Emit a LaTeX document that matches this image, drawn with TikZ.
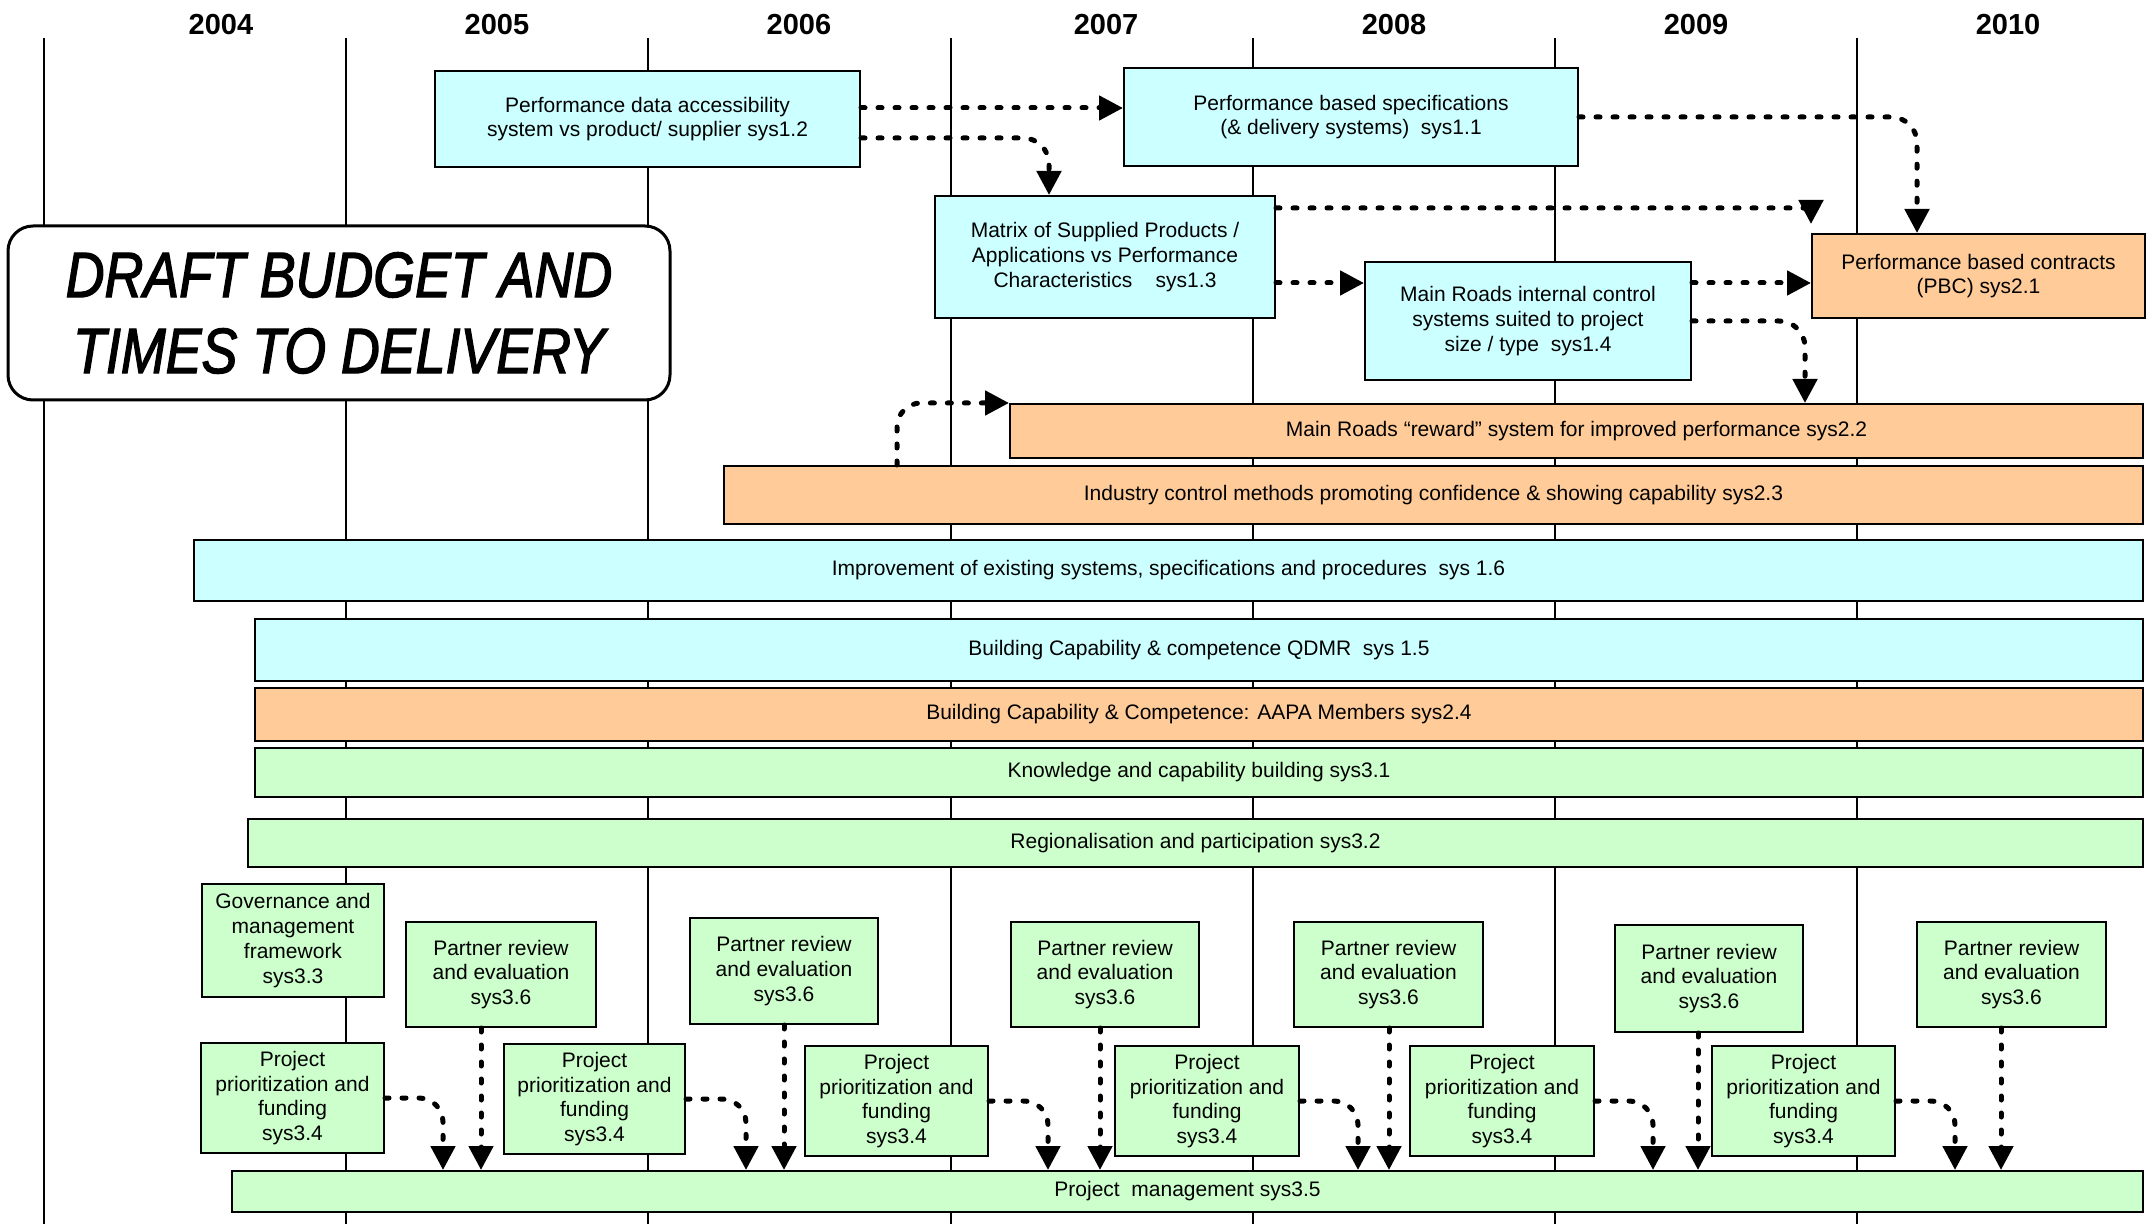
\documentclass[tikz,border=0pt]{standalone}
\usepackage{fontspec}
\setmainfont{Liberation Sans}
\newfontfamily\titlefont[FakeStretch=0.84,FakeBold=2]{Liberation Sans}
\usetikzlibrary{arrows.meta}
\definecolor{sysblue}{RGB}{204,255,255}
\definecolor{sysorange}{RGB}{255,204,153}
\definecolor{sysgreen}{RGB}{204,255,204}
\tikzset{every picture/.style={line width=0.65pt},
  sysat/.style n args={4}{minimum width={(#3-#1)*0.5pt}, minimum height={(#4-#2)*0.5pt},
    at={({(#1+#3)/2},{(#2+#4)/2})}},
  sysbox/.style={draw, line width=1pt, inner sep=0pt, align=center, font=\fontsize{10.5}{12.4}\selectfont},
  bluebox/.style={sysbox, fill=sysblue},
  orangebox/.style={sysbox, fill=sysorange},
  greenbox/.style={sysbox, fill=sysgreen},
  titlebox/.style={draw, fill=white, line width=1.5pt, rounded corners=12.5pt, inner sep=0pt, align=center, font=\titlefont\itshape\fontsize{32}{38}\selectfont},
  yearlabel/.style={font=\fontsize{14.5}{16}\selectfont\bfseries},
  flow/.style={line width=2.5pt, line cap=round, dash pattern=on 2pt off 6.5pt, rounded corners=13pt, -{Triangle[length=12pt,width=12pt]}}
}

\begin{document}
\begin{tikzpicture}[x=0.5pt,y=0.5pt,yscale=-1,xscale=1]
\fill[white] (0,0) rectangle (2154,1224);
\useasboundingbox (0,0) rectangle (2154,1224);

%Straight Lines: year columns
\foreach \xp in {44,346,648,951,1253,1555,1857}
  \draw (\xp,38) -- (\xp,1224);

% Text Node: years
\foreach \yr/\xp in {2004/221,2005/497,2006/799,2007/1106,2008/1394,2009/1696,2010/2008}
  \node[yearlabel] (y\yr) at (\xp,25) {\yr};

%Shape: Rounded Rectangle
\node[titlebox, sysat={8}{226}{670}{400}] (title) {DRAFT BUDGET AND\\TIMES TO DELIVERY};

%Shape: Rectangle
\node[bluebox, sysat={435}{71}{860}{167}] (s12) {Performance data accessibility\\system vs product/ supplier sys1.2};
\node[bluebox, sysat={1124}{68}{1578}{166}] (s11) {Performance based specifications\\(\& delivery systems)~~sys1.1};
\node[bluebox, sysat={935}{196}{1275}{318}] (s13) {Matrix of Supplied Products /\\Applications vs Performance\\Characteristics~~~~sys1.3};
\node[bluebox, sysat={1365}{262}{1691}{380}] (s14) {Main Roads internal control\\systems suited to project\\size / type~~sys1.4};
\node[orangebox, sysat={1812}{234}{2145}{318}] (s21) {Performance based contracts\\(PBC) sys2.1};

%Shape: Rectangle (bars)
\node[orangebox, sysat={1010}{404}{2143}{458}] (s22) {Main Roads “reward” system for improved performance sys2.2};
\node[orangebox, sysat={724}{466}{2143}{524}] (s23) {Industry control methods promoting confidence \& showing capability sys2.3};
\node[bluebox, sysat={194}{540}{2143}{601}] (s16) {Improvement of existing systems, specifications and procedures~~sys 1.6};
\node[bluebox, sysat={255}{619}{2143}{681}] (s15) {Building Capability \& competence QDMR~~sys 1.5};
\node[orangebox, sysat={255}{688}{2143}{741}] (s24) {Building Capability \& Competence: AAPA Members sys2.4};
\node[greenbox, sysat={255}{748}{2143}{797}] (s31) {Knowledge and capability building sys3.1};
\node[greenbox, sysat={248}{819}{2143}{867}] (s32) {Regionalisation and participation sys3.2};
\node[greenbox, sysat={232}{1171}{2143}{1212}] (s35) {Project~~management sys3.5};

%Shape: Rectangle (small green boxes)
\node[greenbox, sysat={202}{884}{384}{997}] (s33) {Governance and\\management\\framework\\sys3.3};
\foreach \i/\xa/\ya/\xb/\yb in {1/406/922/596/1027, 2/690/918/878/1024, 3/1011/922/1199/1027,
    4/1294/922/1483/1027, 5/1615/925/1803/1032, 6/1917/922/2106/1027}
  \node[greenbox, sysat={\xa}{\ya}{\xb}{\yb}] (p\i) {Partner review\\and evaluation\\sys3.6};
\foreach \i/\xa/\ya/\xb/\yb in {1/201/1043/384/1153, 2/504/1044/685/1154, 3/805/1046/988/1156,
    4/1115/1046/1299/1156, 5/1410/1046/1594/1156, 6/1712/1046/1895/1156}
  \node[greenbox, sysat={\xa}{\ya}{\xb}{\yb}] (f\i) {Project\\prioritization and\\funding\\sys3.4};

%Curve Lines: upper links
\draw[flow] (s12.east |- 0,108) -- (s11.west |- 0,108);
\draw[flow] (s12.east |- 0,138) -| (s13.north -| 1049,0);
\draw[flow] (s11.east |- 0,117) -| (s21.north -| 1917,0);
\draw[flow, rounded corners=4pt] (s13.east |- 0,208) -| ([yshift=-4.5pt]s21.north west);
\draw[flow] (s13.east |- 0,283) -- (s14.west |- 0,283);
\draw[flow] (s14.east |- 0,283) -- (s21.west |- 0,283);
\draw[flow] (s14.east |- 0,321) -| (s22.north -| 1805,0);
\draw[flow, rounded corners=12pt] (s23.north -| 897,0) |- (s22.north west);

%Curve Lines: into project management
\foreach \i/\ax/\px in {1/443/481, 2/746/784, 3/1048/1100, 4/1358/1389, 5/1653/1698, 6/1955/2001} {
  \draw[flow, rounded corners=12pt] (f\i.east) -| (s35.north -| \ax,0);
  \draw[flow] (p\i.south -| \px,0) -- (s35.north -| \px,0);
}

\end{tikzpicture}
\end{document}
